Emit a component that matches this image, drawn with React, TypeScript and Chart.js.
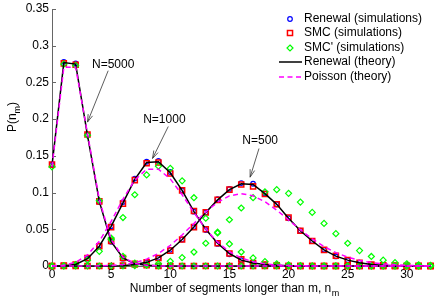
import React, { useEffect, useRef } from "react";
import { Chart, registerables } from "chart.js";

Chart.register(...registerables);

// ---------- data ----------
const nValues = [0, 1, 2, 3, 4, 5, 6, 7, 8, 9, 10, 11, 12, 13, 14, 15, 16, 17, 18, 19, 20, 21, 22, 23, 24, 25, 26, 27, 28, 29, 30, 31, 32];

// N = 5000
const renewalSim5000 = [0.138, 0.278, 0.276, 0.179, 0.087, 0.033, 0.010, 0.003, 0.001, 0, 0, 0, 0, 0, 0, 0, 0, 0, 0, 0, 0, 0, 0, 0, 0, 0, 0, 0, 0, 0, 0, 0, 0];
const smcSim5000 = [0.138, 0.276, 0.274, 0.179, 0.088, 0.034, 0.011, 0.003, 0.001, 0, 0, 0, 0, 0, 0, 0, 0, 0, 0, 0, 0, 0, 0, 0, 0, 0, 0, 0, 0, 0, 0, 0, 0];
const smcPrimeSim5000 = [0.135, 0.275, 0.273, 0.178, 0.089, 0.036, 0.013, 0.004, 0.001, 0, 0, 0, 0, 0, 0, 0, 0, 0, 0, 0, 0, 0, 0, 0, 0, 0, 0, 0, 0, 0, 0, 0, 0];
const renewalTheory5000 = [0.137, 0.277, 0.275, 0.178, 0.088, 0.033, 0.011, 0.003, 0.001, 0.0003, 0, 0, 0, 0, 0, 0, 0, 0, 0, 0, 0, 0, 0, 0, 0, 0, 0, 0, 0, 0, 0, 0, 0];
const poissonTheory5000 = [0.1353, 0.2707, 0.2707, 0.1804, 0.0902, 0.0361, 0.012, 0.0034, 0.0009, 0.0002, 0, 0, 0, 0, 0, 0, 0, 0, 0, 0, 0, 0, 0, 0, 0, 0, 0, 0, 0, 0, 0, 0, 0];

// N = 1000
const renewalSim1000 = [0, 0.0005, 0.002, 0.010, 0.028, 0.054, 0.087, 0.119, 0.142, 0.143, 0.128, 0.103, 0.074, 0.049, 0.030, 0.016, 0.008, 0.004, 0.002, 0.001, 0, 0, 0, 0, 0, 0, 0, 0, 0, 0, 0, 0, 0];
const smcSim1000 = [0, 0.0005, 0.002, 0.011, 0.027, 0.053, 0.085, 0.117, 0.140, 0.141, 0.126, 0.103, 0.075, 0.050, 0.031, 0.017, 0.009, 0.004, 0.002, 0.001, 0, 0, 0, 0, 0, 0, 0, 0, 0, 0, 0, 0, 0];
const smcPrimeSim1000 = [0, 0.0003, 0.002, 0.008, 0.020, 0.038, 0.066, 0.097, 0.124, 0.136, 0.133, 0.116, 0.093, 0.065, 0.045, 0.030, 0.019, 0.011, 0.006, 0.003, 0.0015, 0.0007, 0, 0, 0, 0, 0, 0, 0, 0, 0, 0, 0];
const renewalTheory1000 = [0, 0.0005, 0.002, 0.010, 0.027, 0.054, 0.086, 0.118, 0.141, 0.142, 0.127, 0.103, 0.074, 0.050, 0.031, 0.017, 0.008, 0.004, 0.002, 0.001, 0.0004, 0, 0, 0, 0, 0, 0, 0, 0, 0, 0, 0, 0];
const poissonTheory1000 = [0.0001, 0.0011, 0.005, 0.015, 0.0337, 0.0607, 0.0911, 0.1171, 0.1318, 0.1318, 0.1186, 0.097, 0.0728, 0.0504, 0.0324, 0.0194, 0.0109, 0.0058, 0.0029, 0.0014, 0.0006, 0.0003, 0.0001, 0, 0, 0, 0, 0, 0, 0, 0, 0, 0];

// N = 500
const renewalSim500 = [0, 0, 0, 0, 0, 0, 0.0005, 0.002, 0.005, 0.011, 0.022, 0.036, 0.053, 0.073, 0.091, 0.105, 0.113, 0.112, 0.099, 0.084, 0.065, 0.048, 0.034, 0.022, 0.013, 0.008, 0.0045, 0.002, 0.001, 0.0005, 0, 0, 0];
const smcSim500 = [0, 0, 0, 0, 0, 0, 0.0005, 0.002, 0.005, 0.011, 0.021, 0.036, 0.053, 0.073, 0.090, 0.104, 0.111, 0.1085, 0.098, 0.084, 0.066, 0.048, 0.034, 0.022, 0.014, 0.008, 0.0045, 0.002, 0.001, 0.0005, 0, 0, 0];
const smcPrimeSim500 = [0, 0, 0, 0, 0, 0, 0, 0.0005, 0.0015, 0.003, 0.0065, 0.0115, 0.019, 0.031, 0.046, 0.063, 0.079, 0.093, 0.101, 0.104, 0.099, 0.087, 0.073, 0.058, 0.044, 0.031, 0.021, 0.013, 0.008, 0.0045, 0.003, 0.0017, 0.001];
const renewalTheory500 = [0, 0, 0, 0, 0, 0, 0.0005, 0.002, 0.005, 0.011, 0.0215, 0.036, 0.053, 0.073, 0.090, 0.104, 0.112, 0.111, 0.0985, 0.084, 0.065, 0.048, 0.034, 0.022, 0.0134, 0.008, 0.0045, 0.002, 0.001, 0.0005, 0.0002, 0, 0];
const poissonTheory500 = [0, 0, 0, 0, 0.0002, 0.0007, 0.0019, 0.0045, 0.0093, 0.0171, 0.0281, 0.0422, 0.058, 0.0737, 0.0868, 0.0955, 0.0985, 0.0956, 0.0876, 0.0761, 0.0628, 0.0493, 0.037, 0.0265, 0.0182, 0.012, 0.0076, 0.0047, 0.0027, 0.0016, 0.0009, 0.0005, 0.0002];

const xTicks = [0, 5, 10, 15, 20, 25, 30];
const yTicks = [0, 0.05, 0.1, 0.15, 0.2, 0.25, 0.3, 0.35];
const xRange = [0, 32];
const yRange = [0, 0.35];

const legendLabels = ["Renewal (simulations)", "SMC (simulations)", "SMC' (simulations)", "Renewal (theory)", "Poisson (theory)"];
const xTitle = "Number of segments longer than m, n";
const xTitleSub = "m";
const yTitle = "P(n";
const yTitleSub = "m";
const yTitleEnd = ")";

// annotations (data coordinates)
const annotationLabels = ["N=5000", "N=1000", "N=500"];
const annotationTextAt = [[5.17, 0.2746], [9.5, 0.199], [17.6, 0.1707]];
const arrowTail = [[4.75, 0.266], [9.83, 0.19], [17.5, 0.16]];
const arrowTip = [[3.0, 0.196], [8.5, 0.1465], [16.75, 0.121]];

// ---------- styling ----------
const FONT = '"Liberation Sans", Arial, Helvetica, sans-serif';
const BLUE = "#0000ff";
const RED = "#ff0000";
const GREEN = "#00ff00";
const MAGENTA = "#ff00ff";

const MARK = {
  circle: { color: BLUE, radius: 2.3, bw: 1.2 },
  rect: { color: RED, radius: 3.6, bw: 1.5 },
  rectRot: { color: GREEN, radius: 3.0, bw: 1.2 },
};

const toXY = (arr: number[]) => arr.map((v, i) => ({ x: nValues[i], y: v }));

function markerSet(data: number[], kind: "circle" | "rect" | "rectRot", order: number) {
  const m = MARK[kind];
  return {
    data: toXY(data),
    showLine: false,
    pointStyle: kind,
    pointRadius: m.radius,
    pointBorderColor: m.color,
    pointBackgroundColor: "rgba(0,0,0,0)",
    pointBorderWidth: m.bw,
    borderColor: m.color,
    order,
    clip: false as any,
  };
}

function lineSet(data: number[], color: string, dashed: boolean, order: number) {
  return {
    data: toXY(data),
    showLine: true,
    borderColor: color,
    borderWidth: 1.5,
    borderDash: dashed ? [5, 3.5] : [],
    pointRadius: 0,
    tension: 0,
    fill: false,
    order,
    clip: false as any,
  };
}

function drawMarker(ctx: CanvasRenderingContext2D, kind: "circle" | "rect" | "rectRot", x: number, y: number) {
  const m = MARK[kind];
  ctx.save();
  ctx.beginPath();
  ctx.strokeStyle = m.color;
  ctx.lineWidth = m.bw;
  if (kind === "circle") {
    ctx.arc(x, y, m.radius, 0, Math.PI * 2);
  } else if (kind === "rect") {
    const s = m.radius * Math.SQRT1_2;
    ctx.rect(x - s, y - s, 2 * s, 2 * s);
  } else {
    const r = m.radius;
    ctx.moveTo(x, y - r);
    ctx.lineTo(x + r, y);
    ctx.lineTo(x, y + r);
    ctx.lineTo(x - r, y);
    ctx.closePath();
  }
  ctx.stroke();
  ctx.restore();
}

const decorPlugin = {
  id: "decor",
  beforeDatasetsDraw(chart: any) {
    const { ctx, chartArea, scales } = chart;
    const xs = scales.x;
    const ys = scales.y;
    ctx.save();
    ctx.strokeStyle = "#666";
    ctx.lineWidth = 1;
    ctx.beginPath();
    ctx.moveTo(chartArea.left + 0.5, chartArea.top);
    ctx.lineTo(chartArea.left + 0.5, chartArea.bottom + 0.5);
    ctx.lineTo(chartArea.right, chartArea.bottom + 0.5);
    ctx.stroke();
    ctx.beginPath();
    yTicks.forEach((v) => {
      const py = Math.round(ys.getPixelForValue(v)) + 0.5;
      ctx.moveTo(chartArea.left, py);
      ctx.lineTo(chartArea.left + 4, py);
    });
    xTicks.forEach((v) => {
      const px = Math.round(xs.getPixelForValue(v)) + 0.5;
      ctx.moveTo(px, chartArea.bottom);
      ctx.lineTo(px, chartArea.bottom - 4);
    });
    ctx.stroke();
    ctx.restore();
  },
  afterDraw(chart: any) {
    const { ctx, chartArea, scales } = chart;
    const xs = scales.x;
    const ys = scales.y;
    ctx.save();
    ctx.fillStyle = "#000";

    // x title
    ctx.font = `12px ${FONT}`;
    ctx.textBaseline = "alphabetic";
    const mainW = ctx.measureText(xTitle).width;
    ctx.font = `9px ${FONT}`;
    const subW = ctx.measureText(xTitleSub).width;
    const totalW = mainW + subW;
    const cx = (chartArea.left + chartArea.right) / 2 - 7;
    const startX = cx - totalW / 2;
    ctx.font = `12px ${FONT}`;
    ctx.textAlign = "left";
    ctx.fillText(xTitle, startX, 292);
    ctx.font = `9px ${FONT}`;
    ctx.fillText(xTitleSub, startX + mainW + 0.5, 296);

    // y title (rotated)
    ctx.save();
    ctx.translate(16, 117);
    ctx.rotate(-Math.PI / 2);
    ctx.font = `12px ${FONT}`;
    const w1 = ctx.measureText(yTitle).width;
    const w3 = ctx.measureText(yTitleEnd).width;
    ctx.font = `9px ${FONT}`;
    const w2 = ctx.measureText(yTitleSub).width;
    const tw = w1 + w2 + w3;
    let px = -tw / 2;
    ctx.font = `12px ${FONT}`;
    ctx.fillText(yTitle, px, 0);
    px += w1;
    ctx.font = `9px ${FONT}`;
    ctx.fillText(yTitleSub, px, 4);
    px += w2;
    ctx.font = `12px ${FONT}`;
    ctx.fillText(yTitleEnd, px, 0);
    ctx.restore();

    // annotations
    ctx.font = `12px ${FONT}`;
    ctx.textAlign = "center";
    ctx.textBaseline = "middle";
    annotationLabels.forEach((label, i) => {
      const tx = xs.getPixelForValue(annotationTextAt[i][0]);
      const ty = ys.getPixelForValue(annotationTextAt[i][1]);
      ctx.fillText(label, tx, ty);
      const ax = xs.getPixelForValue(arrowTail[i][0]);
      const ay = ys.getPixelForValue(arrowTail[i][1]);
      const bx = xs.getPixelForValue(arrowTip[i][0]);
      const by = ys.getPixelForValue(arrowTip[i][1]);
      ctx.strokeStyle = "#333";
      ctx.lineWidth = 0.8;
      ctx.beginPath();
      ctx.moveTo(ax, ay);
      ctx.lineTo(bx, by);
      const ang = Math.atan2(by - ay, bx - ax);
      const hl = 8;
      const ha = 0.3;
      ctx.moveTo(bx - hl * Math.cos(ang - ha), by - hl * Math.sin(ang - ha));
      ctx.lineTo(bx, by);
      ctx.lineTo(bx - hl * Math.cos(ang + ha), by - hl * Math.sin(ang + ha));
      ctx.stroke();
    });

    // legend
    const rows = [19, 33, 48, 62, 77];
    const markerX = 290;
    const textX = 304;
    const kinds: ("circle" | "rect" | "rectRot")[] = ["circle", "rect", "rectRot"];
    ctx.textAlign = "left";
    ctx.textBaseline = "middle";
    ctx.font = `12px ${FONT}`;
    legendLabels.forEach((label, i) => {
      const y = rows[i];
      if (i < 3) drawMarker(ctx, kinds[i], markerX, y);
      else {
        ctx.save();
        ctx.strokeStyle = i === 3 ? "#000" : MAGENTA;
        ctx.lineWidth = 1.5;
        ctx.setLineDash(i === 3 ? [] : [5, 3.5]);
        ctx.beginPath();
        ctx.moveTo(279, y);
        ctx.lineTo(302, y);
        ctx.stroke();
        ctx.restore();
      }
      ctx.fillStyle = "#000";
      ctx.fillText(label, textX, y);
    });
    ctx.restore();
  },
};

export default function App() {
  const canvasRef = useRef<HTMLCanvasElement | null>(null);

  useEffect(() => {
    const canvas = canvasRef.current;
    if (!canvas) return;
    Chart.defaults.font.family = FONT;

    const datasets: any[] = [
      lineSet(poissonTheory5000, MAGENTA, true, 0),
      lineSet(poissonTheory1000, MAGENTA, true, 0),
      lineSet(poissonTheory500, MAGENTA, true, 0),
      lineSet(renewalTheory5000, "#000", false, 1),
      lineSet(renewalTheory1000, "#000", false, 1),
      lineSet(renewalTheory500, "#000", false, 1),
      markerSet(smcPrimeSim5000, "rectRot", 2),
      markerSet(smcPrimeSim1000, "rectRot", 2),
      markerSet(smcPrimeSim500, "rectRot", 2),
      markerSet(smcSim5000, "rect", 3),
      markerSet(smcSim1000, "rect", 3),
      markerSet(smcSim500, "rect", 3),
      markerSet(renewalSim5000, "circle", 4),
      markerSet(renewalSim1000, "circle", 4),
      markerSet(renewalSim500, "circle", 4),
    ];

    const chart = new Chart(canvas, {
      type: "line",
      data: { datasets },
      options: {
        responsive: false,
        animation: false,
        events: [],
        layout: { padding: { top: 0, right: 0, left: 0, bottom: 0 } },
        plugins: {
          legend: { display: false },
          tooltip: { enabled: false },
          title: { display: false },
        },
        scales: {
          x: {
            type: "linear",
            min: xRange[0],
            max: xRange[1],
            grid: { display: false, drawTicks: false },
            border: { display: false },
            afterBuildTicks: (s: any) => {
              s.ticks = xTicks.map((v) => ({ value: v }));
            },
            afterFit: (s: any) => {
              s.height = 34;
            },
            ticks: {
              autoSkip: false,
              maxRotation: 0,
              padding: 3,
              color: "#000",
              font: { size: 12, family: FONT, lineHeight: 1 },
              callback: (v: any) => String(v),
            },
          },
          y: {
            type: "linear",
            min: yRange[0],
            max: yRange[1],
            grid: { display: false, drawTicks: false },
            border: { display: false },
            afterBuildTicks: (s: any) => {
              s.ticks = yTicks.map((v) => ({ value: v }));
            },
            afterFit: (s: any) => {
              s.width = 52;
            },
            ticks: {
              autoSkip: false,
              padding: 3,
              color: "#000",
              font: { size: 12, family: FONT, lineHeight: 1 },
              callback: (v: any) => String(parseFloat(Number(v).toFixed(2))),
            },
          },
        },
      },
      plugins: [decorPlugin],
    });

    return () => {
      chart.destroy();
    };
  }, []);

  return (
    <div style={{ position: "absolute", left: 0, top: 0, width: 436, height: 300, background: "#fff" }}>
      <canvas ref={canvasRef} width={436} height={300} style={{ display: "block", width: 436, height: 300 }} />
    </div>
  );
}
